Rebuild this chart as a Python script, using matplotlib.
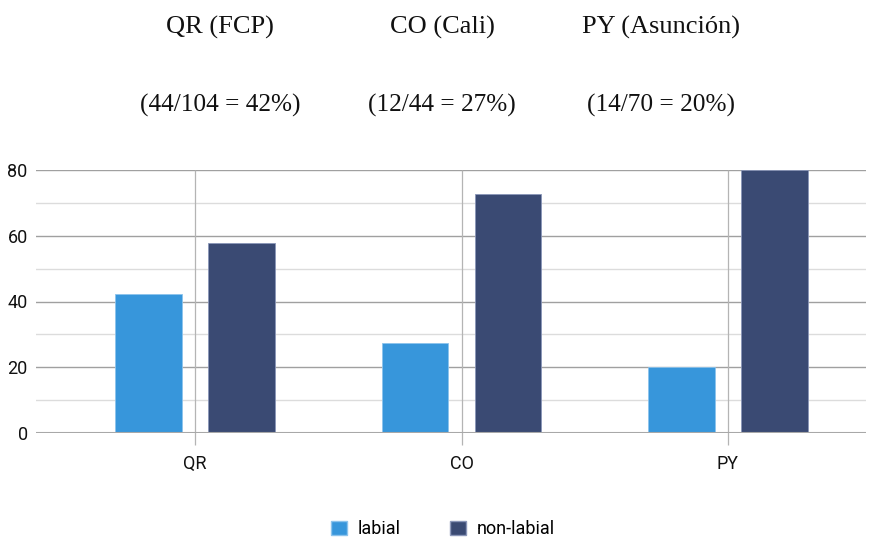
import numpy as np
import matplotlib.pyplot as plt
from matplotlib.patches import Patch

# Daten
categories = ["QR", "CO", "PY"]
labial = [42.3, 27.3, 20.0]
non_labial = [57.7, 72.7, 80.0]
titles = ["QR (FCP)", "CO (Cali)", "PY (Asunción)"]
subtitles = ["(44/104 = 42%)", "(12/44 = 27%)", "(14/70 = 20%)"]

c_lab = "#3796db"
c_non = "#3a4a73"

plt.rcParams["font.family"] = ["Roboto", "DejaVu Sans"]

fig = plt.figure(figsize=(8.79, 5.37), dpi=100)
ax = fig.add_axes([36 / 879, 1 - 433 / 537, 830 / 879, 263 / 537])

x = np.arange(len(categories))
w = 0.251
off = 0.1745

# Gitter
for v in range(10, 80, 20):
    ax.axhline(v, color="#dcdcdc", lw=1, zorder=0)
for v in range(20, 81, 20):
    ax.axhline(v, color="#a0a0a0", lw=1, zorder=0)
ax.axhline(0, color="#a8a8a8", lw=1.5, zorder=3)
ax.vlines(x, -3.7, 80, color="#b4b4b4", lw=0.9, zorder=0, clip_on=False)

ax.bar(x - off, labial, w, color=c_lab, edgecolor="#8cc3ec", lw=0.6, zorder=2)
ax.bar(x + off, non_labial, w, color=c_non, edgecolor="#8a96b8", lw=0.6, zorder=2)

ax.set_xlim(-0.597, 2.518)
ax.set_ylim(0, 80)
ax.set_yticks([0, 20, 40, 60, 80])
ax.set_xticks(x)
ax.set_xticklabels(categories)
ax.tick_params(length=0, labelsize=13, colors="#111111")
ax.tick_params(axis="x", pad=16)
ax.tick_params(axis="y", pad=6)
for s in ax.spines.values():
    s.set_visible(False)

# Titel oben
title_x = [220, 442, 661]
for tx, t, st in zip(title_x, titles, subtitles):
    fig.text(tx / 879, 1 - 27 / 537, t, ha="center", va="center",
             family="Liberation Serif", fontsize=19, color="#111111")
    fig.text(tx / 879, 1 - 105 / 537, st, ha="center", va="center",
             family="Liberation Serif", fontsize=18.2, color="#111111")

handles = [Patch(facecolor=c_lab, edgecolor="#8cc3ec", label="labial"),
           Patch(facecolor=c_non, edgecolor="#8a96b8", label="non-labial")]
fig.legend(handles=handles, loc="center", bbox_to_anchor=(443 / 879, 1 - 529 / 537),
           ncol=2, frameon=False, fontsize=13, handlelength=0.85, handleheight=0.85,
           columnspacing=2.75, handletextpad=0.6)

fig.savefig("out.png", dpi=100)
